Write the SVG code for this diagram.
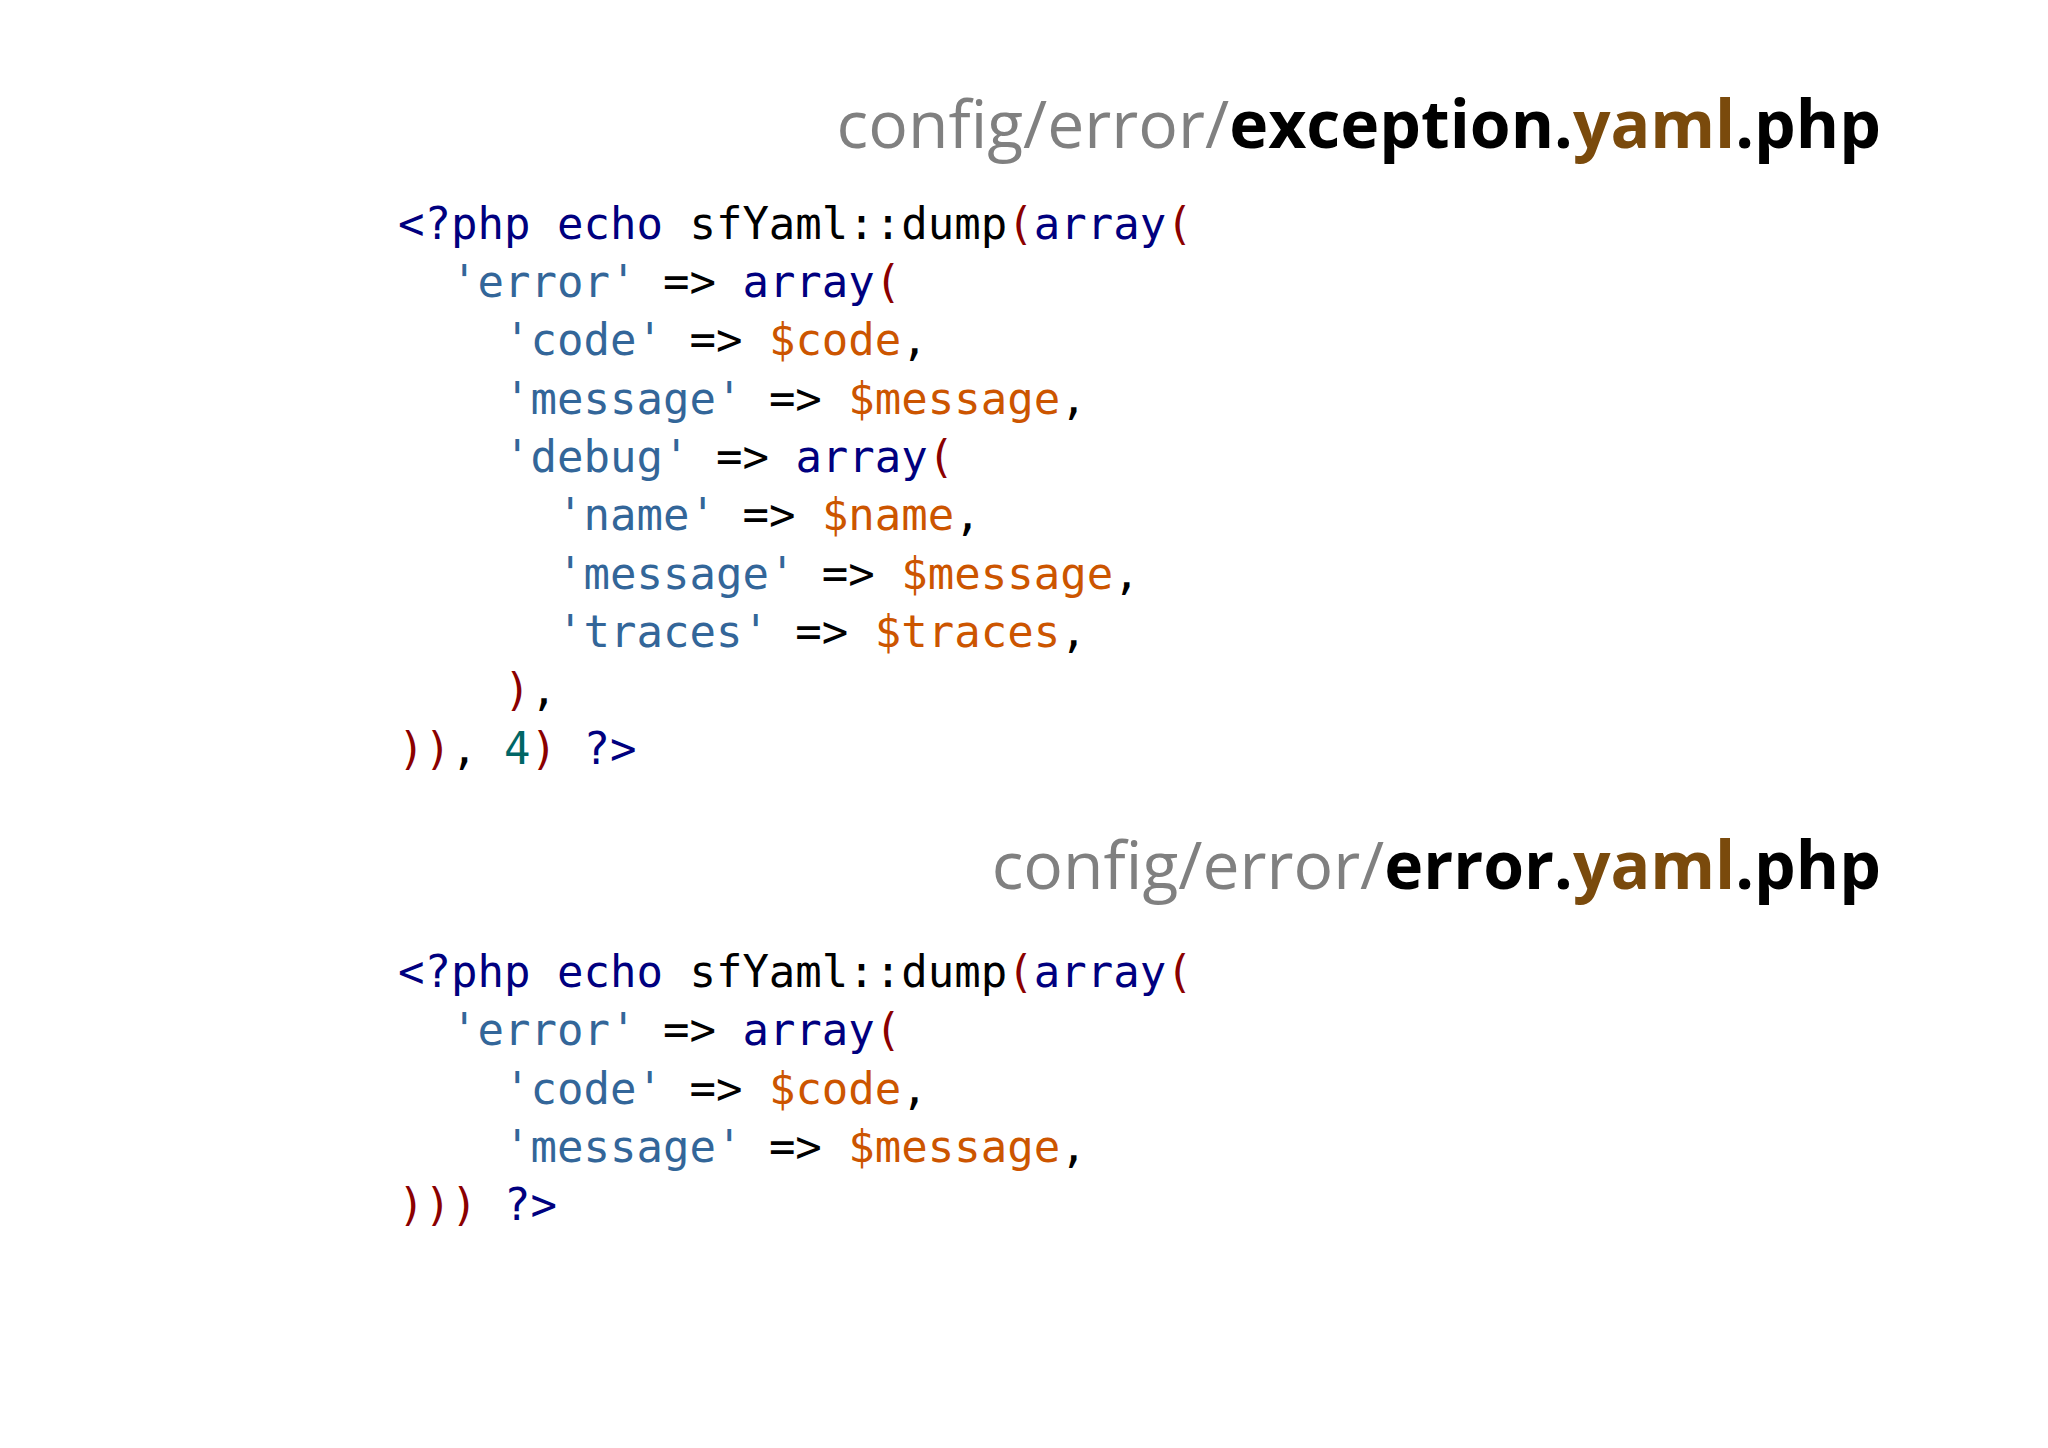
<svg xmlns="http://www.w3.org/2000/svg" width="2048" height="1448" viewBox="0 0 2048 1448">
<style>
.t{font-family:"Open Sans","Noto Sans","Liberation Sans",sans-serif;font-size:66px;text-anchor:end}
.g{fill:#808080}.b{fill:#000;font-weight:bold}.y{fill:#7a4a0c;font-weight:bold}
.c{font-family:"DejaVu Sans Mono","Liberation Mono",monospace;font-size:44px;fill:#000;white-space:pre}
.k{fill:#00007f}.s{fill:#336699}.v{fill:#cc5500}.p{fill:#8b0000}.n{fill:#006666}
</style>
<rect width="2048" height="1448" fill="#fff"/>
<g id="title1"><text class="t" x="1881" y="148"><tspan class="g">config/error/</tspan><tspan class="b">exception.</tspan><tspan class="y">yaml</tspan><tspan class="b">.php</tspan></text></g>
<g id="code1">
<text class="c" xml:space="preserve" x="398" y="239"><tspan class="k">&lt;?php echo</tspan> sfYaml::dump<tspan class="p">(</tspan><tspan class="k">array</tspan><tspan class="p">(</tspan></text>
<text class="c" xml:space="preserve" x="398" y="297">  <tspan class="s">'error'</tspan> =&gt; <tspan class="k">array</tspan><tspan class="p">(</tspan></text>
<text class="c" xml:space="preserve" x="398" y="355">    <tspan class="s">'code'</tspan> =&gt; <tspan class="v">$code</tspan>,</text>
<text class="c" xml:space="preserve" x="398" y="414">    <tspan class="s">'message'</tspan> =&gt; <tspan class="v">$message</tspan>,</text>
<text class="c" xml:space="preserve" x="398" y="472">    <tspan class="s">'debug'</tspan> =&gt; <tspan class="k">array</tspan><tspan class="p">(</tspan></text>
<text class="c" xml:space="preserve" x="398" y="530">      <tspan class="s">'name'</tspan> =&gt; <tspan class="v">$name</tspan>,</text>
<text class="c" xml:space="preserve" x="398" y="589">      <tspan class="s">'message'</tspan> =&gt; <tspan class="v">$message</tspan>,</text>
<text class="c" xml:space="preserve" x="398" y="647">      <tspan class="s">'traces'</tspan> =&gt; <tspan class="v">$traces</tspan>,</text>
<text class="c" xml:space="preserve" x="398" y="705">    <tspan class="p">)</tspan>,</text>
<text class="c" xml:space="preserve" x="398" y="764"><tspan class="p">))</tspan>, <tspan class="n">4</tspan><tspan class="p">)</tspan> <tspan class="k">?&gt;</tspan></text>
</g>
<g id="title2"><text class="t" x="1881" y="889"><tspan class="g">config/error/</tspan><tspan class="b">error.</tspan><tspan class="y">yaml</tspan><tspan class="b">.php</tspan></text></g>
<g id="code2">
<text class="c" xml:space="preserve" x="398" y="987"><tspan class="k">&lt;?php echo</tspan> sfYaml::dump<tspan class="p">(</tspan><tspan class="k">array</tspan><tspan class="p">(</tspan></text>
<text class="c" xml:space="preserve" x="398" y="1045">  <tspan class="s">'error'</tspan> =&gt; <tspan class="k">array</tspan><tspan class="p">(</tspan></text>
<text class="c" xml:space="preserve" x="398" y="1104">    <tspan class="s">'code'</tspan> =&gt; <tspan class="v">$code</tspan>,</text>
<text class="c" xml:space="preserve" x="398" y="1162">    <tspan class="s">'message'</tspan> =&gt; <tspan class="v">$message</tspan>,</text>
<text class="c" xml:space="preserve" x="398" y="1220"><tspan class="p">)))</tspan> <tspan class="k">?&gt;</tspan></text>
</g>
</svg>
